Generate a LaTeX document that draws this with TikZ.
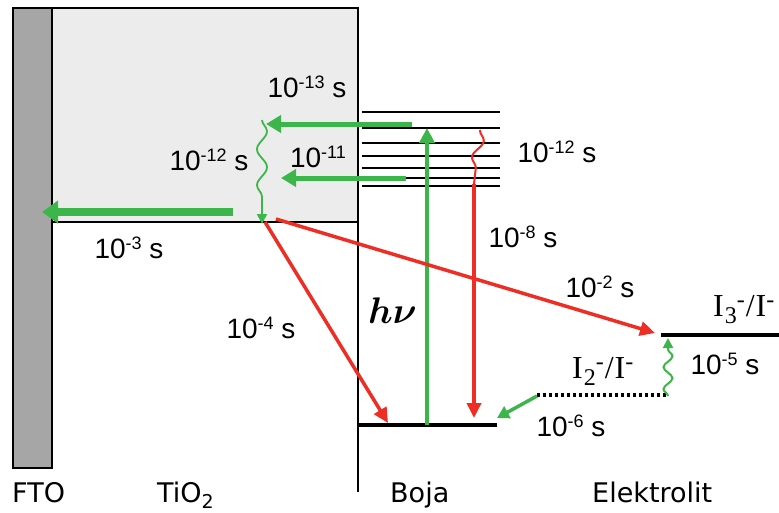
\RequirePackage{fix-cm}
\documentclass[tikz,border=0pt]{standalone}
\usepackage{bm}
\usepackage{fontspec}
\setmainfont{Liberation Sans}
\newfontfamily\labfont{DejaVu Sans}
\newfontfamily\serifont{Liberation Serif}
\usetikzlibrary{arrows.meta,decorations.pathmorphing}
\definecolor{gr}{RGB}{60,182,74}
\definecolor{rd}{RGB}{238,45,36}
\definecolor{boxgray}{RGB}{236,236,236}
\definecolor{ftogray}{RGB}{166,166,166}
\newcommand\mysup[1]{\raisebox{8.5pt}{\fontsize{18}{18}\selectfont #1}}
\newcommand\mysubi[1]{\raisebox{-7.5pt}{\fontsize{24}{24}\selectfont #1}}
\newcommand\mysupi{\raisebox{9pt}{\fontsize{24}{24}\selectfont -}}
\newcommand\mysubt[1]{\raisebox{-6pt}{\fontsize{19}{19}\selectfont #1}}
\tikzset{
  tlab/.style={font=\fontsize{28}{30}\selectfont, inner sep=0pt, anchor=base},
  blab/.style={font=\labfont\fontsize{27}{29}\selectfont, inner sep=0pt, anchor=base west},
  slab/.style={font=\serifont\fontsize{32}{34}\selectfont, inner sep=0pt, anchor=base west},
  hvlab/.style={font=\fontsize{37}{39}\selectfont, inner sep=0pt, anchor=base west},
  garrow/.style={draw=gr, line width=5, -{Triangle[length=15,width=17]}},
  bigarrow/.style={draw=gr, line width=8, -{Triangle[length=16,width=22]}},
  rarrow/.style={draw=rd, line width=3.5, -{Triangle[length=15,width=14]}},
  level/.style={draw=black, line width=2},
}
\begin{document}
\begin{tikzpicture}[x=1pt,y=-1pt]
\useasboundingbox (0,0) rectangle (779,512);
\fill[white] (0,0) rectangle (779,512);
% TiO2 box and FTO
\draw[fill=boxgray, line width=1.2] (52,8) rectangle (358,222);
\draw[fill=ftogray, line width=1.2] (13,8) rectangle (52,468);
\draw[line width=1.6] (358,8) -- (358,492);
% dye levels
\foreach \yy in {112,128,143,156,168,178,186}
  \draw[level] (362,\yy) -- (500,\yy);
\coordinate (g0) at (358,425);
\coordinate (g1) at (497,425);
\draw[line width=4.5] (g0) -- (g1);
% electrolyte levels
\coordinate (i3a) at (661,335);
\coordinate (i3b) at (779,335);
\draw[line width=4] (i3a) -- (i3b);
\coordinate (i2a) at (537,395);
\coordinate (i2b) at (667,395);
\draw[line width=3.5, dash pattern=on 3pt off 3pt] (i2a) -- (i2b);
% green arrows
\coordinate (a1s) at (412,124); \coordinate (a1e) at (266,124);
\draw[garrow] (a1s) -- (a1e);
\coordinate (a2s) at (406,178); \coordinate (a2e) at (281,178);
\draw[garrow] (a2s) -- (a2e);
\coordinate (a3s) at (233,212); \coordinate (a3e) at (42,212);
\draw[bigarrow] (a3s) -- (a3e);
\coordinate (hvs) at (427,425); \coordinate (hve) at (427,128);
\draw[draw=gr, line width=4, -{Triangle[length=15,width=15]}] (hvs) -- (hve);
\coordinate (e6s) at (537,396); \coordinate (e6e) at (497,418);
\draw[draw=gr, line width=3.5, -{Triangle[length=12,width=13]}] (e6s) -- (e6e);
% green wavy lines
\coordinate (w1s) at (262,120); \coordinate (w1e) at (262,224);
\draw[draw=gr, line width=1.8, decorate, decoration={snake, amplitude=5, segment length=36, pre length=0, post length=10}, -{Triangle[length=10,width=10]}] (w1s) -- (w1e);
\coordinate (w2s) at (668,396); \coordinate (w2e) at (668,338);
\draw[draw=gr, line width=2, decorate, decoration={snake, amplitude=4.5, segment length=22, post length=6}, -{Triangle[length=10,width=10]}] (w2s) -- (w2e);
% red arrows
\coordinate (r1s) at (265,222); \coordinate (r1e) at (388,423);
\draw[rarrow] (r1s) -- (r1e);
\coordinate (r2s) at (276,219); \coordinate (r2e) at (655,333);
\draw[rarrow] (r2s) -- (r2e);
\coordinate (r3s) at (480,130); \coordinate (r3m) at (474,184); \coordinate (r3e) at (474,418);
\draw[draw=rd, line width=2, decorate, decoration={snake, amplitude=5, segment length=34}] (r3s) -- (r3m);
\draw[rarrow] (r3m) -- (r3e);
% time labels
\node[tlab] (t13) at (307,97) {10\mysup{-13} s};
\node[tlab] (t12a) at (209,170) {10\mysup{-12} s};
\node[tlab] (t11) at (318,167) {10\mysup{-11}};
\node[tlab] (t12b) at (557,162) {10\mysup{-12} s};
\node[tlab] (t3) at (129,258) {10\mysup{-3} s};
\node[tlab] (t8) at (523,247) {10\mysup{-8} s};
\node[tlab] (t2) at (600,297) {10\mysup{-2} s};
\node[tlab] (t4) at (261,338) {10\mysup{-4} s};
\node[tlab] (t5) at (725,374) {10\mysup{-5} s};
\node[tlab] (t6) at (571,436) {10\mysup{-6} s};
\node[hvlab] (photon) at (368,323) {$\bm{h\nu}$};
\node[slab] (i3l) at (713,316) {I\kern1pt\mysubi{3}\mysupi\kern1pt/\kern1pt I\mysupi};
\node[slab] (i2l) at (572,378) {I\kern1pt\mysubi{2}\mysupi\kern1pt/\kern1pt I\mysupi};
% bottom labels
\node[blab] (fto) at (12,502) {FTO};
\node[blab] (tio) at (157,502) {TiO\mysubt{2}};
\node[blab] (boja) at (390,502) {Boja};
\node[blab] (el) at (592,502) {Elektrolit};
\end{tikzpicture}
\end{document}
